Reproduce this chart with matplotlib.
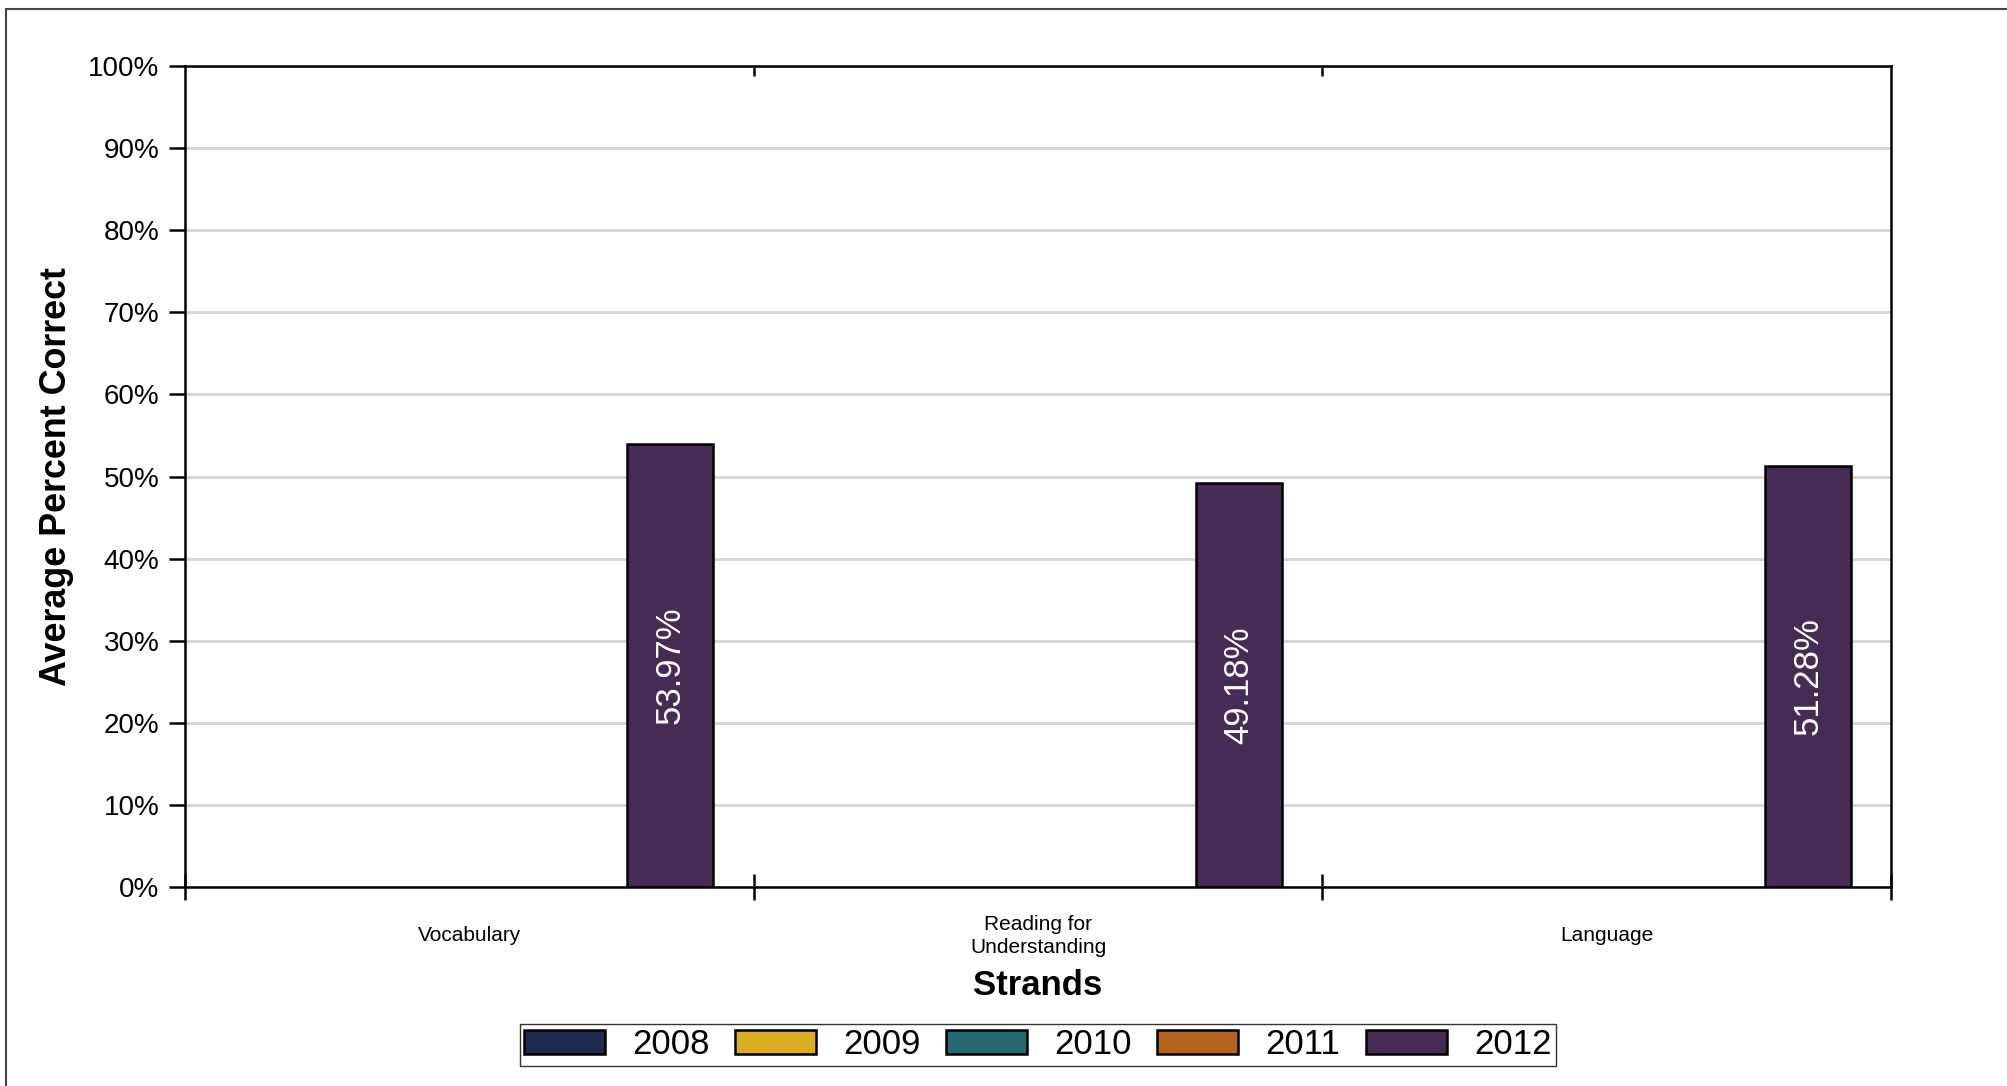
import numpy as np
import matplotlib
matplotlib.use('Agg')
import matplotlib.pyplot as plt
from matplotlib.ticker import PercentFormatter, FixedLocator
from matplotlib.patches import Rectangle

plt.rcParams['font.family'] = ['Liberation Sans', 'DejaVu Sans']

# data
strands = ['Vocabulary', 'Reading for\nUnderstanding', 'Language']
years = ['2008', '2009', '2010', '2011', '2012']
pct_2008 = [np.nan, np.nan, np.nan]
pct_2009 = [np.nan, np.nan, np.nan]
pct_2010 = [np.nan, np.nan, np.nan]
pct_2011 = [np.nan, np.nan, np.nan]
pct_2012 = [53.97, 49.18, 51.28]
series = [pct_2008, pct_2009, pct_2010, pct_2011, pct_2012]
colors = ['#1d2a4e', '#d8ae20', '#246870', '#b4641f', '#462c55']

fig = plt.figure(figsize=(20.07, 10.86), dpi=100)
ax = fig.add_axes([0.0922, 0.1832, 0.85, 0.7560])

# outer frame (only top and left edges visible)
fig.patches.append(Rectangle((6 / 2007, -0.5), 2, 1.5 - 9 / 1086, transform=fig.transFigure,
                             fill=False, edgecolor='#444444', linewidth=1.5))

x = np.arange(len(strands))
step = 0.1767
width = 0.151
for i, (vals, yr, c) in enumerate(zip(series, years, colors)):
    bars = ax.bar(x + (i - 2) * step, vals, width, color=c, edgecolor='black',
                  linewidth=1.8, label=yr, zorder=3)
    for b, v in zip(bars, vals):
        if np.isnan(v):
            continue
        ax.text(b.get_x() + b.get_width() / 2, v / 2, f'{v:.2f}%', rotation=90,
                ha='center', va='center', color='white', fontsize=25, zorder=4)

ax.set_xlim(-0.5, 2.5)
ax.set_ylim(0, 100)
ax.yaxis.set_major_locator(FixedLocator(np.arange(0, 101, 10)))
ax.yaxis.set_major_formatter(PercentFormatter(decimals=0))
ax.grid(axis='y', color='#d4d4d4', linewidth=2, zorder=0)
ax.set_axisbelow(True)

ax.set_xticks([-0.5, 0.5, 1.5, 2.5])
ax.set_xticklabels([])
ax.set_xticks(x, strands, minor=True)
ax.tick_params(axis='x', which='major', direction='inout', length=19, width=1.8)
ax.tick_params(axis='x', which='minor', length=0, pad=35, labelsize=15)
for lbl in ax.get_xticklabels(minor=True):
    lbl.set_linespacing(1.25)
    lbl.set_verticalalignment('center')
ax.tick_params(axis='y', direction='out', length=11.5, width=1.8, labelsize=20, pad=7)

top = ax.secondary_xaxis('top')
top.set_xticks([0.5, 1.5])
top.set_xticklabels([])
top.tick_params(direction='in', length=7, width=1.8)
top.spines['top'].set_visible(False)

for s in ax.spines.values():
    s.set_linewidth(1.8)
    s.set_color('black')

ax.set_ylabel('Average Percent Correct', fontsize=25.8, fontweight='bold', labelpad=10)
ax.set_xlabel('Strands', fontsize=25, fontweight='bold', labelpad=9)

leg = fig.legend(loc='center', bbox_to_anchor=(0.517, 0.0378), ncol=5, fontsize=25,
                 frameon=True, fancybox=False, edgecolor='black', borderpad=0.12,
                 handlelength=2.33, handleheight=0.7, handletextpad=0.78,
                 columnspacing=0.74, borderaxespad=0)
leg.get_frame().set_linewidth(1.0)

fig.savefig('out.png', dpi=100)
